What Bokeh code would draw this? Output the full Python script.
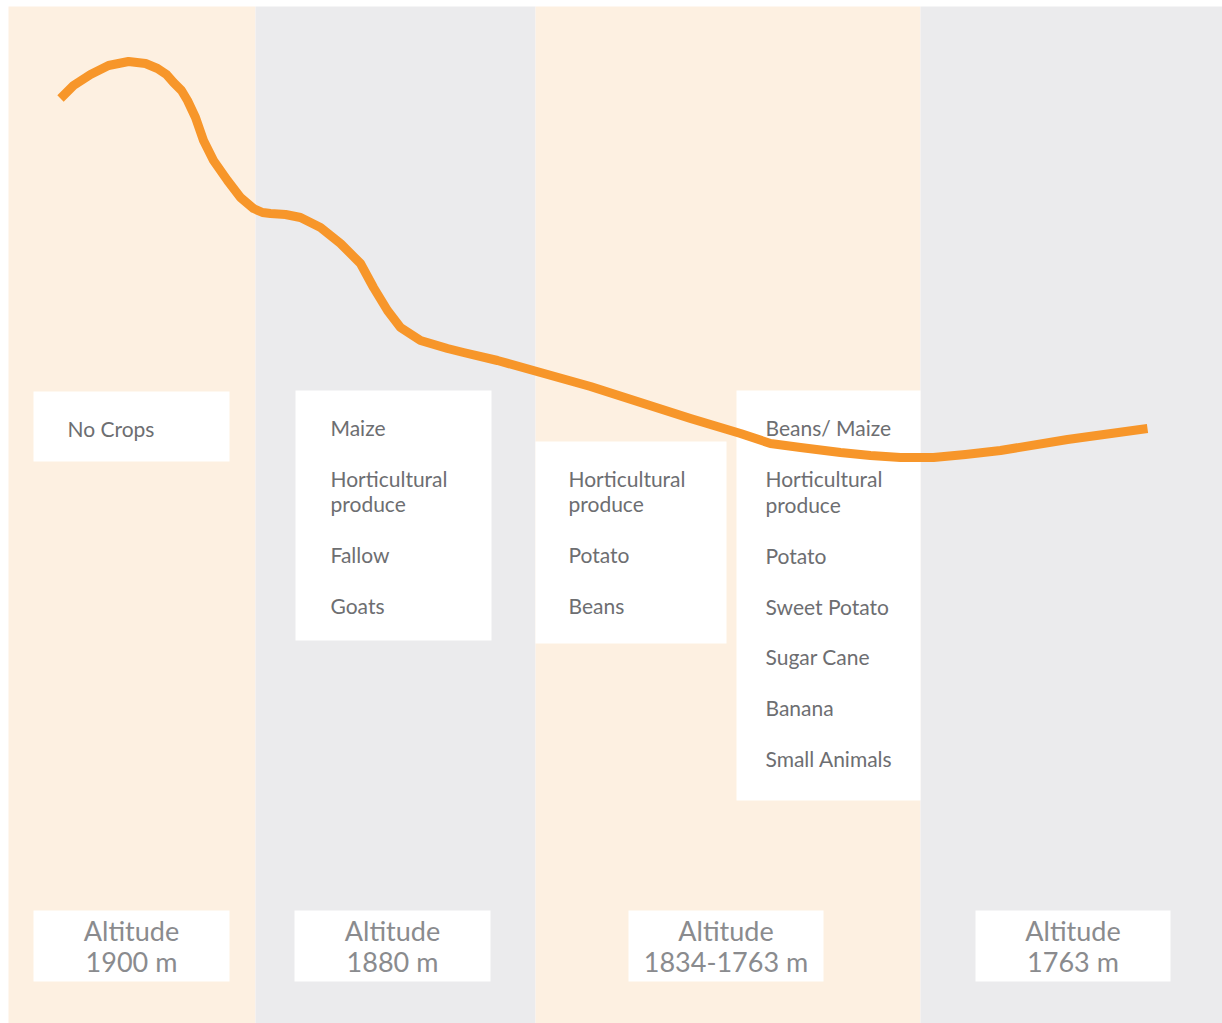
from bokeh.plotting import figure
from bokeh.models import Range1d
from bokeh.core.properties import value
from bokeh.embed import file_html
from bokeh.resources import INLINE

# ---- data ----
zone_names = ["Zone 1", "Zone 2", "Zone 3", "Zone 4"]
band_left = [8, 255, 535, 920]
band_right = [255, 535, 920, 1222]
band_colors = ["#FDF0E1", "#EBEBED", "#FDF0E1", "#EBEBED"]

altitude_lines = ["1900 m", "1880 m", "1834-1763 m", "1763 m"]
alt_box_left = [33, 294, 628, 975]
alt_box_right = [229, 490, 823, 1170]

crop_lists = [
    ["No Crops"],
    ["Maize", "Horticultural", "produce", "Fallow", "Goats"],
    ["Horticultural", "produce", "Potato", "Beans"],
    ["Beans/ Maize", "Horticultural", "produce", "Potato", "Sweet Potato",
     "Sugar Cane", "Banana", "Small Animals"],
]
crop_rows = [
    [430],
    [429, 480, 505, 556, 607],
    [480, 505, 556, 607],
    [429, 480, 506, 557, 608, 658, 709, 760],
]
crop_x = [67, 330, 568, 765]
crop_box_left = [33, 295, 535, 736]
crop_box_right = [229, 491, 726, 920]
crop_box_top = [391, 390, 441, 390]
crop_box_bottom = [461, 640, 643, 800]

curve_x = [60, 73, 90, 108, 128, 145, 157, 166, 173, 181, 187, 195, 203, 213, 227,
           240, 253, 262, 270, 285, 300, 320, 340, 360, 373, 387, 400, 420, 447,
           463, 497, 540, 590, 640, 690, 740, 770, 800, 840, 870, 900, 933, 965,
           1000, 1067, 1147]
curve_y = [98, 85, 74, 65, 61, 63, 68, 74, 82, 90, 100, 117, 140, 160, 180,
           197, 208, 212, 213, 214, 217, 227, 243, 263, 287, 310, 327, 340, 348,
           352, 360, 372, 386, 402, 418, 433, 443, 447, 452, 455, 457, 457, 454,
           450, 439, 428]

# ---- figure ----
p = figure(width=1222, height=1023, output_backend="svg", toolbar_location=None,
           x_range=Range1d(0, 1222), y_range=Range1d(1023, 0),
           min_border=0, border_fill_color="white", background_fill_color="white")
p.axis.visible = False
p.grid.visible = False
p.outline_line_color = None

p.quad(left=band_left, right=band_right, top=[6] * 4, bottom=[1023] * 4,
       fill_color=band_colors, line_color=None)

p.quad(left=crop_box_left, right=crop_box_right, top=crop_box_top,
       bottom=crop_box_bottom, fill_color="white", line_color=None)
p.quad(left=alt_box_left, right=alt_box_right, top=[910] * 4, bottom=[981] * 4,
       fill_color="white", line_color=None)

tx, ty, tt = [], [], []
for i, items in enumerate(crop_lists):
    for label, row in zip(items, crop_rows[i]):
        tx.append(crop_x[i])
        ty.append(row)
        tt.append(label)
p.text(x=tx, y=ty, text=tt, text_font=value("Lato"), text_font_size="21px",
       text_color="#6D6E71", text_baseline="middle", text_align="left",
       y_offset=-2)

cx = [(l + r) / 2 for l, r in zip(alt_box_left, alt_box_right)]
p.text(x=cx, y=[931] * 4, text=["Altitude"] * 4, text_font=value("Lato"),
       text_font_size="27px", text_color="#8A8B8E", text_baseline="middle",
       text_align="center", y_offset=-1)
p.text(x=cx, y=[962] * 4, text=altitude_lines, text_font=value("Lato"),
       text_font_size="27px", text_color="#8A8B8E", text_baseline="middle",
       text_align="center", y_offset=-1)

p.line(curve_x, curve_y, line_color="#F7962A", line_width=9, line_cap="butt",
       line_join="round")

open("out.html", "w").write(file_html(p, INLINE))
